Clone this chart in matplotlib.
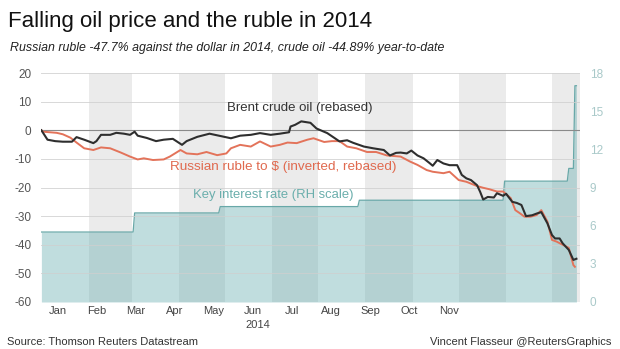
import matplotlib
matplotlib.use("Agg")
import matplotlib.pyplot as plt
import numpy as np
import pandas as pd

plt.rcParams['font.family'] = ['Liberation Sans', 'DejaVu Sans']

# ---------------- data (days since 2014-01-01, values) ----------------
brent_days = [0, 4, 9, 14, 20, 23, 28, 34, 36, 39, 45, 49, 54, 58, 61, 63, 69, 75, 80, 86,
              92, 95, 102, 110, 117, 124, 130, 137, 143, 150, 156, 162, 163, 166, 170, 176,
              180, 187, 192, 195, 200, 204, 211, 217, 224, 228, 232, 235, 239, 242, 246, 250,
              254, 256, 259, 263, 267, 272, 275, 278, 281, 285, 287, 289, 292, 296, 298, 302,
              304, 308, 311, 314, 317, 321, 324, 327, 331, 334, 336, 339, 341, 345, 348, 350]
brent_vals = [0, -3.3, -3.8, -4.0, -4.0, -2.4, -3.3, -4.5, -3.8, -1.6, -1.6, -0.9, -1.2, -1.6,
              -0.5, -1.9, -2.7, -3.8, -3.3, -3.0, -5.1, -3.8, -2.3, -1.2, -2.0, -2.8, -1.9,
              -1.6, -1.0, -1.6, -1.2, -0.7, 1.3, 1.9, 3.1, 2.6, 0.6, -1.0, -2.8, -3.9, -3.5,
              -4.4, -5.7, -6.3, -6.9, -8.8, -7.9, -7.8, -8.1, -7.1, -8.8, -9.8, -11.5, -12.4,
              -10.4, -11.6, -12.2, -12.2, -15.6, -16.8, -17.4, -19.2, -21.5, -24.2, -23.3,
              -23.5, -22.0, -22.9, -22.2, -25.0, -25.4, -26.1, -30.0, -29.7, -29.1, -28.6,
              -32.5, -36.6, -37.8, -37.8, -39.5, -41.8, -45.3, -44.89]

ruble_days = [0, 1, 10, 14, 19, 23, 28, 34, 39, 45, 52, 58, 63, 67, 73, 80, 84, 91, 95, 102,
              108, 115, 121, 124, 130, 137, 143, 150, 156, 161, 167, 174, 178, 185, 190, 195,
              200, 206, 213, 219, 226, 235, 241, 246, 252, 256, 263, 267, 273, 278, 285, 289,
              293, 298, 302, 307, 310, 313, 316, 320, 324, 327, 331, 334, 337, 341, 345, 348, 349]
ruble_vals = [0, -0.5, -0.9, -1.4, -2.6, -4.3, -6.3, -6.9, -6.0, -6.3, -7.8, -9.2, -10.2, -9.8,
              -10.4, -10.2, -9.2, -6.9, -8.1, -8.4, -7.6, -8.7, -8.1, -6.3, -5.1, -5.7, -3.9,
              -5.7, -5.1, -4.3, -4.5, -3.3, -2.8, -4.1, -3.8, -3.8, -5.7, -6.3, -7.6, -7.6,
              -8.8, -9.2, -10.9, -12.1, -13.9, -14.5, -15.0, -14.5, -17.4, -18.0, -19.5, -20.1,
              -20.6, -21.4, -21.4, -23.7, -27.9, -29.0, -30.2, -30.2, -29.6, -27.9, -31.9,
              -38.3, -38.9, -40.0, -41.1, -47.1, -47.7]

rate_change_dates = ['2014-01-01', '2014-03-03', '2014-04-28', '2014-07-28',
                     '2014-10-31', '2014-12-12', '2014-12-16']
rate_levels = [5.5, 7.0, 7.5, 8.0, 9.5, 10.5, 17.0]
rate_end = '2014-12-17'

month_labels = ['Jan', 'Feb', 'Mar', 'Apr', 'May', 'Jun', 'Jul', 'Aug', 'Sep', 'Oct', 'Nov']
left_ticks = [-60, -50, -40, -30, -20, -10, 0, 10, 20]
right_ticks = [0, 3, 6, 9, 12, 15, 18]

# ---------------- prep ----------------
start = pd.Timestamp('2014-01-01')
brent_x = start + pd.to_timedelta(brent_days, unit='D')
ruble_x = start + pd.to_timedelta(ruble_days, unit='D')
rate = pd.Series(rate_levels, index=pd.to_datetime(rate_change_dates))
rate_daily = rate.reindex(pd.date_range(start, rate_end, freq='D')).ffill()

W, H = 620, 349
fig = plt.figure(figsize=(W / 100, H / 100), dpi=100)
fig.patch.set_facecolor('white')
ax2 = fig.add_axes([41 / W, 1 - 302 / H, 539 / W, 229 / H])
ax3 = ax2.twinx()
ax = ax2.twinx()
ax.set_zorder(ax2.get_zorder() + 2)
ax3.set_zorder(ax2.get_zorder() + 1)
ax.patch.set_visible(False)
ax3.patch.set_visible(False)

x0 = start - pd.Timedelta(hours=6)
x1 = pd.Timestamp('2014-12-19 08:00')
ax2.set_xlim(x0, x1)

# month bands
band_grey = '#ebebeb'
for m in range(1, 13):
    ms = pd.Timestamp(2014, m, 1)
    me = pd.Timestamp(2015, 1, 1) if m == 12 else pd.Timestamp(2014, m + 1, 1)
    if m % 2 == 0:
        ax2.axvspan(ms, min(me, x1), color=band_grey, lw=0, zorder=0)

# key rate
ax2.fill_between(rate_daily.index, 0, rate_daily.values, color='#6aaeb1', alpha=0.42,
                 lw=0, zorder=1)
ax2.plot(rate_daily.index, rate_daily.values, color='#68a8a8', lw=0.9, zorder=2)
ax2.set_ylim(0, 18)
ax2.set_yticks([])

ax.set_ylim(-60, 20)
ax.set_xlim(x0, x1)
for t in left_ticks:
    if t == 0:
        ax.axhline(t, color='#8a8a8a', lw=0.8, zorder=1)
    elif t != -60:
        ax.axhline(t, color='#cfcfcf', lw=0.7, alpha=0.8, zorder=1)

ax.plot(ruble_x, ruble_vals, color='#e3735a', lw=1.4, zorder=3)
ax.plot(brent_x, brent_vals, color='#2e2e2e', lw=1.5, zorder=4)

# axes styling
for a in (ax, ax2, ax3):
    for s in a.spines.values():
        s.set_visible(False)
    a.tick_params(length=0)

ax.yaxis.tick_left()
ax.set_yticks(left_ticks)
ax.set_yticklabels([str(t) for t in left_ticks], color='#555555', fontsize=8.5)
ax.tick_params(axis='y', pad=7)

ax3.set_ylim(0, 18)
ax3.set_yticks(right_ticks)
ax3.set_yticklabels([str(t) for t in right_ticks], color='#a9c9c9', fontsize=8.5)
ax3.tick_params(axis='y', pad=7)

# month tick labels (shared x axis)
label_pos = [start + pd.Timedelta(days=10.5 + 25.6 * i) for i in range(len(month_labels))]
ax2.set_xticks(label_pos)
ax2.set_xticklabels(month_labels, color='#444444', fontsize=8)
ax2.tick_params(axis='x', pad=3)
ax.tick_params(axis='x', labelbottom=False)
ax3.tick_params(axis='x', labelbottom=False)

# series labels
ax.text(pd.Timestamp('2014-06-19'), 7.8, 'Brent crude oil (rebased)', color='#333333',
        fontsize=9.5, ha='center', va='center', zorder=6)
ax.text(pd.Timestamp('2014-03-26'), -12.8, 'Russian ruble to $ (inverted, rebased)',
        color='#e0694e', fontsize=9.7, ha='left', va='center', zorder=6)
ax.text(pd.Timestamp('2014-04-10'), -22.6, 'Key interest rate (RH scale)', color='#6aaeac',
        fontsize=9.4, ha='left', va='center', zorder=6)

# figure texts
fig.text(8 / W, 1 - 27 / H, 'Falling oil price and the ruble in 2014', fontsize=16,
         color='#111111', ha='left', va='baseline')
fig.text(10 / W, 1 - 51 / H,
         'Russian ruble -47.7% against the dollar in 2014, crude oil -44.89% year-to-date',
         fontsize=8.9, style='italic', color='#222222', ha='left', va='baseline')
fig.text(258 / W, 1 - 328 / H, '2014', fontsize=8, color='#444444', ha='center',
         va='baseline')
fig.text(7 / W, 1 - 345 / H, 'Source: Thomson Reuters Datastream', fontsize=8,
         color='#333333', ha='left', va='baseline')
fig.text(611 / W, 1 - 345 / H, 'Vincent Flasseur @ReutersGraphics', fontsize=8,
         color='#333333', ha='right', va='baseline')

fig.savefig('out.png', dpi=100, facecolor='white')
